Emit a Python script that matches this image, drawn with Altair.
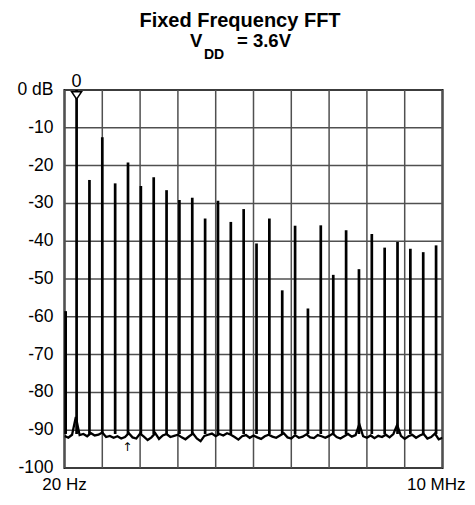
import altair as alt
import pandas as pd

# ---- text ----
title_line1 = "Fixed Frequency FFT"
title_v = "V"
title_sub = "DD"
title_rest = "= 3.6V"
marker_label = "0"
arrow_label = "\u2191"

# ---- axes ----
x_ticks = [0, 1, 2, 3, 4, 5, 6, 7, 8, 9, 10]
y_ticks = [-100, -90, -80, -70, -60, -50, -40, -30, -20, -10, 0]
y_tick_labels = ["-100", "-90", "-80", "-70", "-60", "-50", "-40", "-30", "-20", "-10", "0 dB"]
x_label_pos = [0, 10]
x_label_text = ["20 Hz", "10 MHz"]

# ---- spectral peaks (MHz, dB) ----
peak_freq_mhz = [0.03, 0.32, 0.66, 1.00, 1.34, 1.68, 2.02, 2.36, 2.70, 3.04,
                 3.38, 3.72, 4.06, 4.40, 4.74, 5.08, 5.42, 5.76, 6.10, 6.44,
                 6.78, 7.11, 7.45, 7.79, 8.13, 8.47, 8.81, 9.15, 9.49, 9.83]
peak_db = [-58.5, 0.0, -23.8, -12.5, -24.7, -19.2, -25.4, -23.1, -26.5, -29.1,
           -28.5, -34.0, -29.3, -34.9, -31.5, -40.6, -34.0, -53.0, -35.9, -57.8,
           -35.8, -48.9, -37.1, -47.4, -38.1, -41.7, -40.2, -42.0, -42.9, -41.1]
peak_base_db = -91.0

# ---- noise floor, sampled every 0.1 MHz from 0 to 10 ----
floor_step = 0.1
floor_db = [-91.5, -92.0, -91.2, -86.5, -91.3, -91.0, -91.6, -90.8, -91.4, -91.2,
            -90.6, -91.8, -91.5, -92.0, -91.6, -92.2, -91.8, -90.8, -91.9, -92.2,
            -90.9, -91.7, -92.6, -91.9, -90.8, -92.3, -91.4, -91.0, -91.8, -91.5,
            -91.2, -91.9, -92.4, -91.6, -90.9, -92.2, -92.9, -91.5, -91.2, -90.9,
            -91.6, -91.0, -91.4, -90.8, -91.2, -91.8, -92.5, -91.6, -91.3, -92.0,
            -91.4, -91.9, -92.3, -91.6, -91.2, -91.7, -92.0, -91.4, -90.8, -91.9,
            -92.2, -91.3, -92.0, -91.7, -91.1, -91.9, -92.1, -91.3, -91.6, -92.0,
            -91.5, -90.9, -91.8, -92.2, -91.6, -91.0, -91.7, -91.3, -88.4, -91.6,
            -92.0, -91.4, -92.1, -91.5, -91.8, -91.2, -91.9, -91.0, -88.6, -91.5,
            -92.3, -91.6, -91.2, -92.0, -91.4, -91.0, -92.2, -91.8, -90.9, -92.4,
            -92.0]

marker_freq = 0.32
arrow_freq = 1.66
arrow_db = -94.4

floor_df = pd.DataFrame({
    "freq": [round(i * floor_step, 2) for i in range(len(floor_db))],
    "db": floor_db,
})
peaks_df = pd.DataFrame({"freq": peak_freq_mhz, "db": peak_db,
                         "base": [peak_base_db] * len(peak_db)})
marker_df = pd.DataFrame({"freq": [marker_freq], "t": [marker_label]})
arrow_df = pd.DataFrame({"freq": [arrow_freq], "db": [arrow_db], "t": [arrow_label]})
xgrid_df = pd.DataFrame({"freq": x_ticks})
ygrid_df = pd.DataFrame({"db": y_ticks, "t": y_tick_labels})
xlab_df = pd.DataFrame({"freq": x_label_pos, "t": x_label_text})

FONT = "Liberation Sans"
GRID = "#505050"

x_scale = alt.Scale(domain=[0, 10], nice=False, zero=False)
y_scale = alt.Scale(domain=[-100, 0], nice=False, zero=False)
X = alt.X("freq:Q", scale=x_scale, axis=None)
Y = alt.Y("db:Q", scale=y_scale, axis=None)

xgrid = alt.Chart(xgrid_df).mark_rule(color=GRID, strokeWidth=1.5).encode(x=X)
ygrid = alt.Chart(ygrid_df).mark_rule(color=GRID, strokeWidth=1.5).encode(y=Y)

ylabels = alt.Chart(ygrid_df).mark_text(
    font=FONT, fontSize=17.5, align="right", baseline="middle", color="black"
).encode(y=Y, x=alt.value(-11), text="t:N")

xlabel_left = alt.Chart(xlab_df).transform_filter("datum.freq == 0").mark_text(
    font=FONT, fontSize=17, align="center", baseline="top", color="black"
).encode(x=X, y=alt.value(387), text="t:N")

xlabel_right = alt.Chart(xlab_df).transform_filter("datum.freq == 10").mark_text(
    font=FONT, fontSize=17, align="right", baseline="top", color="black", dx=23
).encode(x=X, y=alt.value(387), text="t:N")

floor_line = alt.Chart(floor_df).mark_line(
    color="black", strokeWidth=2.3, clip=True
).encode(x=X, y=Y)

spikes = alt.Chart(peaks_df).mark_rule(color="black", strokeWidth=2.7).encode(
    x=X, y=Y, y2="base:Q",
)

marker_tri = alt.Chart(marker_df).mark_point(
    shape="M-1,-0.75L1,-0.75L0,0.75Z", size=100, filled=True,
    fill="white", stroke="black", strokeWidth=1.5, opacity=1,
).encode(x=X, y=alt.value(5.5))

marker_txt = alt.Chart(marker_df).mark_text(
    font=FONT, fontSize=18, baseline="alphabetic", align="center", color="black"
).encode(x=X, y=alt.value(-3), text="t:N")

arrow_txt = alt.Chart(arrow_df).mark_text(
    font="DejaVu Sans", fontSize=12, baseline="middle", align="center", color="black"
).encode(x=X, y=Y, text="t:N")

def title_text(s, x, y, size, align):
    return alt.Chart(pd.DataFrame({"t": [s]})).mark_text(
        font=FONT, fontSize=size, fontWeight="bold", align=align,
        baseline="alphabetic", color="black"
    ).encode(x=alt.value(x), y=alt.value(y), text="t:N")

t1 = title_text(title_line1, 175.5, -63.5, 20, "center")
t2 = title_text(title_v, 125.5, -43, 18.5, "left")
t3 = title_text(title_sub, 139.5, -31.5, 14, "left")
t4 = title_text(title_rest, 172.5, -43, 18.5, "left")

chart = alt.layer(
    xgrid, ygrid, floor_line, spikes, marker_tri, marker_txt, arrow_txt,
    ylabels, xlabel_left, xlabel_right, t1, t2, t3, t4
).properties(
    width=378, height=378,
    autosize=alt.AutoSizeParams(type="none"),
    padding={"left": 56.5, "top": 82, "right": 24, "bottom": 28},
).configure(
    font=FONT
).configure_view(
    stroke="black", strokeWidth=2
)

chart.save("out.html", embed_options={"renderer": "svg", "actions": False})
